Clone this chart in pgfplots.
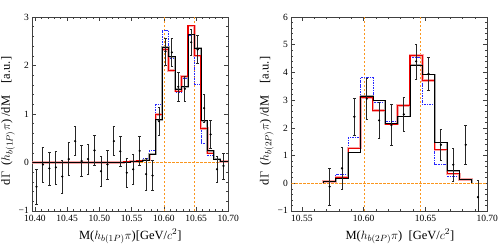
\documentclass[border=0pt]{standalone}
\usepackage{fontspec}
\setmainfont{Liberation Serif}
\usepackage{pgfplots}
\usepackage{pgfplotstable}
\pgfplotsset{compat=1.18}
\definecolor{zorange}{RGB}{250,150,30}
\definecolor{zblue}{RGB}{40,40,255}
\definecolor{zred}{RGB}{235,0,0}

\pgfplotstableread{
x y e
10.4025 -0.50 0.37
10.4125 -0.04 0.36
10.4225 -0.12 0.34
10.4325 -0.10 0.34
10.4425 -0.29 0.34
10.4525 0.07 0.34
10.4625 0.44 0.30
10.4725 0.03 0.32
10.4825 0.07 0.31
10.4925 0.25 0.31
10.5025 -0.18 0.31
10.5125 -0.04 0.30
10.5225 0.44 0.30
10.5325 0.23 0.31
10.5425 -0.21 0.30
10.5525 -0.14 0.31
10.5625 0.24 0.30
10.5725 -0.24 0.33
10.5825 -0.27 0.31
10.5925 0.85 0.29
10.6025 2.29 0.28
10.6125 2.27 0.29
10.6225 1.56 0.29
10.6325 1.52 0.26
10.6425 2.48 0.27
10.6525 2.33 0.29
10.6625 1.12 0.29
10.6725 0.58 0.29
10.6825 -0.14 0.27
10.6925 -0.07 0.27
}\dataA

\pgfplotstableread{
x y e
10.5725 -0.12 0.67
10.5825 0.54 0.75
10.5925 2.40 0.66
10.6025 3.05 0.75
10.6125 2.27 0.64
10.6225 2.10 0.74
10.6325 2.49 0.63
10.6425 4.40 0.63
10.6525 3.95 0.60
10.6625 1.39 0.55
10.6725 0.67 0.60
10.6825 1.39 0.71
10.6925 -0.50 0.60
}\dataB

\pgfplotsset{
  zstyle/.style={
    scale only axis, width=196pt, height=194pt,
    axis line style={black!75, line width=0.6pt},
    tick align=inside,
    major tick length=4pt, minor tick length=2pt,
    every tick/.style={black!75, line width=0.5pt},
    tick label style={font=\fontsize{9.5}{10}\selectfont, text=black},
    xticklabel style={inner ysep=0.5pt, yshift=-3.5pt},
    yticklabel style={inner ysep=0.3pt},
    label style={font=\fontsize{12.5}{14}\selectfont},
    minor x tick num=4, minor y tick num=4,
    clip=true,
  },
  zerr/.style={only marks, mark=*, mark size=0.9pt, black,
    error bars/.cd, y dir=both, y explicit,
    error bar style={line width=0.9pt, black!85},
    error mark options={rotate=90, mark size=1.2pt, line width=0.6pt, black!85}},
  zblk/.style={const plot, black, line width=0.8pt},
  zblkh/.style={const plot, black!35, line width=1.7pt},
  zr/.style={const plot, zred, line width=1.1pt},
  zrh/.style={const plot, zred!35, line width=2.4pt},
  zb/.style={const plot, zblue, line width=0.8pt, dash pattern=on 2.5pt off 1pt on 0.8pt off 1pt},
  zo/.style={zorange, line width=0.7pt, dash pattern=on 2.5pt off 1.5pt},
}

\begin{document}
\begin{tikzpicture}[x=1pt,y=1pt]
\useasboundingbox (0,0) rectangle (498,250);

% ---------------- left panel ----------------
\begin{axis}[zstyle,
  at={(32.3pt,39pt)}, anchor=south west,
  xmin=10.396, xmax=10.70, ymin=-1, ymax=3,
  xtick={10.40,10.45,10.50,10.55,10.60,10.65,10.70},
  xticklabels={10.40,10.45,10.50,10.55,10.60,10.65,10.70},
  ytick={-1,0,1,2,3},
  yticklabels={\raisebox{1.5pt}{−1},0,1,2,3},
  xlabel={M($h_{b(1P)}\pi$)[GeV/$c^2$]},
  ylabel={d$\Gamma$\ \ ($h_{b(1P)}\pi$)\ /dM\quad[a.u.]},
  xlabel style={at={(axis description cs:0.5,-0.131)}, anchor=center},
  ylabel style={at={(axis description cs:-0.124,0.464)}, anchor=center},
]
\addplot[zo] coordinates {(10.396,0) (10.70,0)};
\addplot[zo] coordinates {(10.6003,-1) (10.6003,3)};
\addplot[zo] coordinates {(10.6470,-1) (10.6470,3)};

\addplot[zb] coordinates {(10.396,0) (10.5375,0.01) (10.5475,0.02) (10.5575,0.03) (10.5675,0.08) (10.5775,0.24) (10.5875,1.20) (10.5975,2.72) (10.6075,2.15) (10.6175,1.44) (10.6275,1.73) (10.6375,2.62) (10.6475,1.62) (10.6575,0.39) (10.6675,0.14) (10.6775,0.06) (10.6875,0.02) (10.70,0.02)};

\addplot[zrh] coordinates {(10.396,0) (10.5375,0.01) (10.5475,0.02) (10.5575,0.03) (10.5675,0.05) (10.5775,0.17) (10.5875,0.99) (10.5975,2.33) (10.6075,1.90) (10.6175,1.47) (10.6275,1.77) (10.6375,2.82) (10.6475,2.20) (10.6575,0.70) (10.6675,0.19) (10.6775,0.07) (10.6875,0.02) (10.70,0.02)};
\addplot[zblkh] coordinates {(10.396,0) (10.5375,0.01) (10.5475,0.02) (10.5575,0.03) (10.5675,0.05) (10.5775,0.17) (10.5875,0.88) (10.5975,2.38) (10.6075,2.18) (10.6175,1.51) (10.6275,1.56) (10.6375,2.64) (10.6475,2.36) (10.6575,0.86) (10.6675,0.24) (10.6775,0.07) (10.6875,0.02) (10.70,0.02)};
\addplot[zr] coordinates {(10.396,0) (10.5375,0.01) (10.5475,0.02) (10.5575,0.03) (10.5675,0.05) (10.5775,0.17) (10.5875,0.99) (10.5975,2.33) (10.6075,1.90) (10.6175,1.47) (10.6275,1.77) (10.6375,2.82) (10.6475,2.20) (10.6575,0.70) (10.6675,0.19) (10.6775,0.07) (10.6875,0.02) (10.70,0.02)};
\addplot[zblk] coordinates {(10.396,0) (10.5375,0.01) (10.5475,0.02) (10.5575,0.03) (10.5675,0.05) (10.5775,0.17) (10.5875,0.88) (10.5975,2.38) (10.6075,2.18) (10.6175,1.51) (10.6275,1.56) (10.6375,2.64) (10.6475,2.36) (10.6575,0.86) (10.6675,0.24) (10.6775,0.07) (10.6875,0.02) (10.70,0.02)};

\addplot[zerr] table[x=x, y=y, y error=e] {\dataA};
\end{axis}

% ---------------- right panel ----------------
\begin{axis}[zstyle,
  at={(291.3pt,39pt)}, anchor=south west,
  xmin=10.5415, xmax=10.70, ymin=-1, ymax=6,
  xtick={10.55,10.60,10.65,10.70},
  xticklabels={10.55,10.60,10.65,10.70},
  ytick={-1,0,1,2,3,4,5,6},
  yticklabels={\raisebox{1.5pt}{−1},0,1,2,3,4,5,6},
  xlabel={M($h_{b(2P)}\pi$)\ \ [GeV/$c^2$]},
  ylabel={d$\Gamma$\ \ ($h_{b(2P)}\pi$)\ /dM\quad[a.u.]},
  xlabel style={at={(axis description cs:0.554,-0.131)}, anchor=center},
  ylabel style={at={(axis description cs:-0.125,0.464)}, anchor=center},
]
\addplot[zo] coordinates {(10.5415,0) (10.70,0)};
\addplot[zo] coordinates {(10.6003,-1) (10.6003,6)};
\addplot[zo] coordinates {(10.6455,-1) (10.6455,6)};

\addplot[zb] coordinates {(10.5675,0) (10.5675,0.09) (10.5775,0.31) (10.5875,1.65) (10.5975,3.81) (10.6075,2.91) (10.6175,2.22) (10.6275,2.85) (10.6375,4.53) (10.6475,2.85) (10.6575,0.69) (10.6675,0.25) (10.6775,0.12) (10.6875,0.12) (10.6875,0)};

\addplot[zrh] coordinates {(10.5675,0) (10.5675,0.07) (10.5775,0.21) (10.5875,1.27) (10.5975,3.09) (10.6075,2.63) (10.6175,2.13) (10.6275,2.81) (10.6375,4.61) (10.6475,3.71) (10.6575,1.21) (10.6675,0.34) (10.6775,0.13) (10.6875,0.13) (10.6875,0)};
\addplot[zblkh] coordinates {(10.5675,0) (10.5675,0.06) (10.5775,0.19) (10.5875,1.11) (10.5975,3.15) (10.6075,2.99) (10.6175,2.16) (10.6275,2.41) (10.6375,4.26) (10.6475,3.93) (10.6575,1.47) (10.6675,0.45) (10.6775,0.14) (10.6875,0.14) (10.6875,0)};
\addplot[zr] coordinates {(10.5675,0) (10.5675,0.07) (10.5775,0.21) (10.5875,1.27) (10.5975,3.09) (10.6075,2.63) (10.6175,2.13) (10.6275,2.81) (10.6375,4.61) (10.6475,3.71) (10.6575,1.21) (10.6675,0.34) (10.6775,0.13) (10.6875,0.13) (10.6875,0)};
\addplot[zblk] coordinates {(10.5675,0) (10.5675,0.06) (10.5775,0.19) (10.5875,1.11) (10.5975,3.15) (10.6075,2.99) (10.6175,2.16) (10.6275,2.41) (10.6375,4.26) (10.6475,3.93) (10.6575,1.47) (10.6675,0.45) (10.6775,0.14) (10.6875,0.14) (10.6875,0)};

\addplot[zerr] table[x=x, y=y, y error=e] {\dataB};
\end{axis}
\end{tikzpicture}
\end{document}
